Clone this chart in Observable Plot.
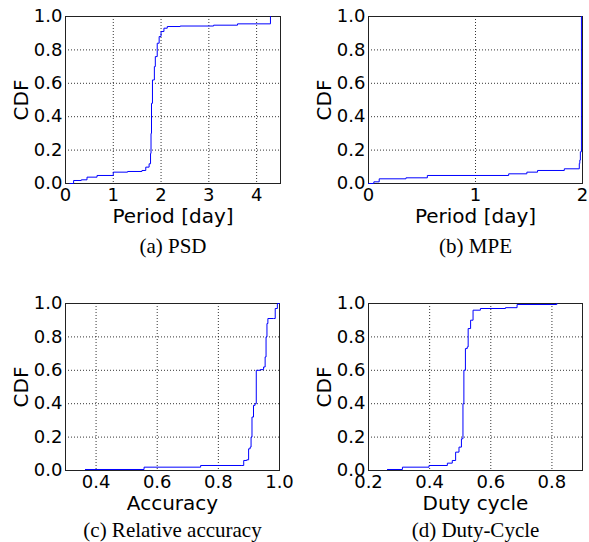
<!DOCTYPE html>
<html>
<head>
<meta charset="utf-8">
<script src="https://cdn.jsdelivr.net/npm/d3@7"></script>
<script src="https://cdn.jsdelivr.net/npm/@observablehq/plot@0.6"></script>
<style>
  html, body { margin: 0; padding: 0; background: #fff; }
  #fig { position: relative; width: 589px; height: 542px; }
  .panel { position: absolute; }
  svg { overflow: visible; }
</style>
</head>
<body>
<div id="fig"></div>
<script>
// ---- Data ----
const yTicks = [0, 0.2, 0.4, 0.6, 0.8, 1.0];

// (a) PSD
const psdTicks = [0, 1, 2, 3, 4];
const psdX = [0.09, 0.17, 0.33, 0.45, 0.66, 1.0, 1.3, 1.6, 1.68, 1.75, 1.78, 1.79, 1.8, 1.82, 1.86, 1.88, 1.92, 1.96, 2.0, 2.06, 2.13, 2.4, 3.1, 3.6, 4.29, 4.29];
const psdY = [0, 0.018, 0.022, 0.038, 0.048, 0.068, 0.072, 0.078, 0.098, 0.118, 0.18, 0.3, 0.48, 0.62, 0.7, 0.76, 0.84, 0.88, 0.91, 0.93, 0.94, 0.943, 0.948, 0.956, 0.956, 1.0];

// (b) MPE
const mpeTicks = [0, 1, 2];
const mpeX = [0.0, 0.05, 0.1, 0.35, 0.55, 1.31, 1.48, 1.58, 1.83, 1.97, 1.975, 1.98, 1.99, 1.99];
const mpeY = [0.0, 0.01, 0.028, 0.034, 0.048, 0.058, 0.068, 0.078, 0.088, 0.12, 0.14, 0.19, 0.19, 1.0];

// (c) Relative accuracy
const accTicks = [0.4, 0.6, 0.8, 1.0];
const accX = [0.365, 0.557, 0.742, 0.877, 0.883, 0.893, 0.899, 0.904, 0.907, 0.91, 0.915, 0.92, 0.924, 0.937, 0.948, 0.953, 0.956, 0.959, 0.962, 0.98, 0.986, 0.993, 1.0];
const accY = [0.006, 0.02, 0.03, 0.03, 0.06, 0.064, 0.13, 0.14, 0.2, 0.32, 0.39, 0.4, 0.6, 0.604, 0.62, 0.68, 0.8, 0.88, 0.91, 0.91, 0.97, 1.0, 1.0];

// (d) Duty-Cycle
const dutyTicks = [0.2, 0.4, 0.6, 0.8];
const dutyX = [0.262, 0.311, 0.398, 0.458, 0.474, 0.485, 0.496, 0.504, 0.509, 0.512, 0.517, 0.523, 0.526, 0.534, 0.542, 0.566, 0.648, 0.686, 0.816];
const dutyY = [0.006, 0.02, 0.03, 0.044, 0.06, 0.11, 0.14, 0.19, 0.4, 0.6, 0.73, 0.74, 0.85, 0.9, 0.96, 0.97, 0.975, 0.994, 1.0];

const labels = ["Period [day]", "Period [day]", "Accuracy", "Duty cycle"];
const captions = ["(a) PSD", "(b) MPE", "(c) Relative accuracy", "(d) Duty-Cycle"];
const yLabel = "CDF";

// ---- Drawing ----
function panel(cfg) {
  const rows = cfg.xs.map((x, i) => ({x, y: cfg.ys[i]}));
  const plot = Plot.plot({
    width: cfg.w, height: cfg.h,
    marginLeft: cfg.ml, marginRight: cfg.mr, marginTop: cfg.mt, marginBottom: cfg.mb,
    x: {domain: cfg.xDomain},
    y: {domain: [0, 1]},
    style: {fontFamily: "DejaVu Sans", fontSize: "18px", background: "transparent", color: "black"},
    marks: [
      Plot.gridX(cfg.gridX, {stroke: "black", strokeOpacity: 1, strokeWidth: 0.8, strokeDasharray: "1,2"}),
      Plot.gridY(yTicks, {stroke: "black", strokeOpacity: 1, strokeWidth: 0.8, strokeDasharray: "1,2"}),
      Plot.frame({stroke: "#222", strokeWidth: 1}),
      Plot.axisX(cfg.xTicks, {tickSize: 0, tickPadding: 5, tickFormat: cfg.fmt, fontSize: 18, label: null}),
      Plot.axisY(yTicks, {tickSize: 0, tickPadding: 3, tickFormat: ".1f", fontSize: 18, label: null}),
      Plot.line(rows, {x: "x", y: "y", curve: "step-after", stroke: "#0000ff", strokeWidth: 1}),
      Plot.text([cfg.xLabel], {frameAnchor: "bottom", lineAnchor: "middle", textAnchor: "middle", dy: 33, fontSize: 20, fontFamily: "DejaVu Sans", fill: "black"}),
      Plot.text([yLabel], {frameAnchor: "left", lineAnchor: "middle", textAnchor: "middle", rotate: -90, dx: -44, fontSize: 20, fontFamily: "DejaVu Sans", fill: "black"}),
      Plot.text([cfg.caption], {frameAnchor: "bottom", lineAnchor: "middle", textAnchor: "middle", dy: cfg.capDy, fontSize: 21, fontFamily: "Liberation Serif", fill: "black"})
    ]
  });
  const div = document.createElement("div");
  div.className = "panel";
  div.style.left = cfg.left + "px";
  div.style.top = cfg.top + "px";
  div.appendChild(plot);
  document.getElementById("fig").appendChild(div);
}

panel({xDomain: [0, 4.5], xTicks: psdTicks, gridX: psdTicks, fmt: "d", xs: psdX, ys: psdY,
  xLabel: labels[0], caption: captions[0], left: 0, top: 0, w: 295, h: 270,
  ml: 65, mr: 15, mt: 16, mb: 87, capDy: 63});
panel({xDomain: [0, 2], xTicks: mpeTicks, gridX: mpeTicks, fmt: "d", xs: mpeX, ys: mpeY,
  xLabel: labels[1], caption: captions[1], left: 295, top: 0, w: 294, h: 270,
  ml: 73, mr: 7, mt: 16, mb: 87, capDy: 63});
panel({xDomain: [0.3, 1.0], xTicks: accTicks, gridX: accTicks, fmt: ".1f", xs: accX, ys: accY,
  xLabel: labels[2], caption: captions[2], left: 0, top: 270, w: 295, h: 272,
  ml: 65, mr: 16, mt: 33, mb: 72, capDy: 60});
panel({xDomain: [0.2, 0.9], xTicks: dutyTicks, gridX: dutyTicks, fmt: ".1f", xs: dutyX, ys: dutyY,
  xLabel: labels[3], caption: captions[3], left: 295, top: 270, w: 294, h: 272,
  ml: 73, mr: 7, mt: 33, mb: 72, capDy: 60});
</script>
</body>
</html>
